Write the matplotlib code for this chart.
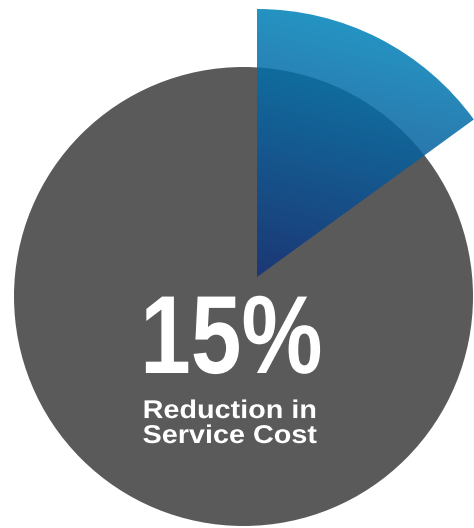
import numpy as np
import matplotlib.pyplot as plt
from matplotlib.patches import Circle, Wedge
from matplotlib.patheffects import AbstractPathEffect
from matplotlib.transforms import Affine2D

# share of total cost removed vs. remaining
share = [15, 85]
headline = "15%"
caption = "Reduction in\nService Cost"

W, H = 474, 528
fig = plt.figure(figsize=(W / 100, H / 100), dpi=100)
ax = fig.add_axes([0, 0, 1, 1])
ax.set_xlim(0, W)
ax.set_ylim(0, H)
ax.axis("off")


class Squeeze(AbstractPathEffect):
    """Scale glyph outlines horizontally about their own centre."""

    def __init__(self, sx):
        super().__init__()
        self.sx = sx

    def draw_path(self, renderer, gc, tpath, affine, rgbFace=None):
        box = tpath.get_extents(affine)
        x0 = 0.5 * (box.x0 + box.x1)
        affine = affine + Affine2D().translate(-x0, 0).scale(self.sx, 1).translate(x0, 0)
        renderer.draw_path(gc, tpath, affine, rgbFace)


# base disc for the remaining share
base = Circle((243.5, 231.5), 229.5, facecolor="#5a5a5a", edgecolor="none", zorder=1)
ax.add_patch(base)

# highlighted slice, pulled out and drawn larger, clockwise from 12 o'clock
sweep = 360 * share[0] / sum(share)
cx, cy, r = 257, 251, 268
wedge = Wedge((cx, cy), r, 90 - sweep, 90, facecolor="none", edgecolor="none")
ax.add_patch(wedge)

# gradient fill clipped to the slice
top = np.array([0, 132, 186]) / 255
bottom = np.array([18, 50, 122]) / 255
nx, ny = 300, 300
xs = np.linspace(cx, cx + r, nx)
ys = np.linspace(cy, cy + r, ny)
gx, gy = np.meshgrid(xs, ys)
t = ((gy - cy) + 0.25 * (gx - cx)) / (r * 1.05)
t = np.clip(t, 0, 1)[..., None]
img = bottom * (1 - t) + top * t
img = np.dstack([img, np.full((ny, nx), 0.86)])
im = ax.imshow(img, extent=(cx, cx + r, cy, cy + r), origin="lower",
               zorder=2, interpolation="bilinear")
im.set_clip_path(wedge)
ax.set_xlim(0, W)
ax.set_ylim(0, H)

ax.text(231, 155, headline, ha="center", va="baseline", color="white",
        fontsize=80, fontweight="bold", family="Liberation Sans", zorder=3,
        path_effects=[Squeeze(0.82)])
ax.text(230, 85, caption, ha="center", va="baseline", color="white",
        fontsize=18.5, fontweight="bold", family="Liberation Sans",
        linespacing=1.05, zorder=3, path_effects=[Squeeze(1.12)])

fig.savefig("out.png", dpi=100)
